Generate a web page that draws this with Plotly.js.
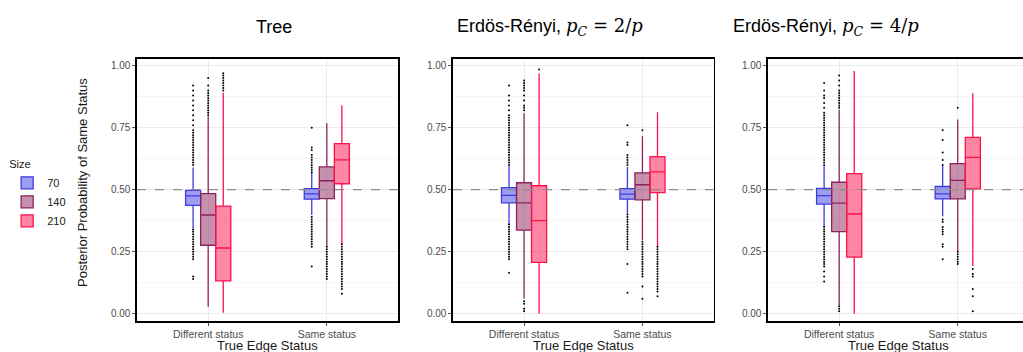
<!DOCTYPE html>
<html>
<head>
<meta charset="utf-8">
<script src="https://cdn.plot.ly/plotly-3.0.1.min.js"></script>
<style>html,body{margin:0;padding:0;background:#fff;}#chart{width:1023px;height:352px;}</style>
</head>
<body>
<div id="chart"></div>
<script>
// ---------- data ----------
const categories = ['Different status', 'Same status'];
const sizes = ['70', '140', '210'];
const panelTitles = [
  'Tree',
  'Erdös-Rényi, <span style="font-family:\'DejaVu Serif\'"><i>p</i><sub><i>C</i></sub> = 2/<i>p</i></span>',
  'Erdös-Rényi, <span style="font-family:\'DejaVu Serif\'"><i>p</i><sub><i>C</i></sub> = 4/<i>p</i></span>'
];
const yTickVals = [0, 0.25, 0.5, 0.75, 1];
const yTickText = ['0.00', '0.25', '0.50', '0.75', '1.00'];
const refLine = 0.5;

// box statistics: [category][size]
const treeQ1 = [[0.437, 0.276, 0.132], [0.462, 0.464, 0.524]];
const treeMed = [[0.475, 0.398, 0.265], [0.483, 0.536, 0.620]];
const treeQ3 = [[0.497, 0.484, 0.434], [0.504, 0.592, 0.686]];
const treeLo = [[0.344, 0.028, 0.004], [0.398, 0.274, 0.281]];
const treeHi = [[0.590, 0.794, 0.891], [0.569, 0.768, 0.840]];

const er2Q1 = [[0.447, 0.337, 0.207], [0.462, 0.459, 0.488]];
const er2Med = [[0.477, 0.447, 0.375], [0.482, 0.520, 0.572]];
const er2Q3 = [[0.508, 0.528, 0.516], [0.504, 0.568, 0.633]];
const er2Lo = [[0.360, 0.061, 0.000], [0.404, 0.297, 0.270]];
const er2Hi = [[0.595, 0.808, 0.969], [0.592, 0.716, 0.812]];

const er4Q1 = [[0.442, 0.331, 0.228], [0.463, 0.463, 0.503]];
const er4Med = [[0.476, 0.446, 0.402], [0.483, 0.538, 0.630]];
const er4Q3 = [[0.505, 0.530, 0.565], [0.513, 0.605, 0.711]];
const er4Lo = [[0.350, 0.034, 0.000], [0.393, 0.252, 0.192]];
const er4Hi = [[0.595, 0.822, 0.979], [0.599, 0.783, 0.889]];

// outliers: [category] for each size
const treeOut70 = [
  [0.60,0.61,0.62,0.63,0.64,0.65,0.66,0.67,0.68,0.69,0.70,0.71,0.72,0.73,0.74,0.76,0.78,0.80,0.82,0.84,0.86,0.88,0.90,0.92,
   0.34,0.33,0.32,0.31,0.30,0.29,0.28,0.27,0.26,0.25,0.24,0.23,0.22,0.15,0.14],
  [0.57,0.58,0.59,0.60,0.61,0.62,0.63,0.64,0.66,0.67,0.75,
   0.39,0.38,0.37,0.36,0.35,0.34,0.33,0.32,0.31,0.30,0.29,0.28,0.27,0.19]
];
const treeOut140 = [
  [0.80,0.81,0.82,0.83,0.84,0.85,0.86,0.87,0.88,0.89,0.90,0.92,0.95],
  [0.27,0.26,0.25,0.24,0.23,0.22,0.21,0.20,0.19,0.18,0.17,0.16,0.15,0.14]
];
const treeOut210 = [
  [0.90,0.91,0.92,0.93,0.94,0.95,0.96,0.97],
  [0.28,0.27,0.26,0.25,0.24,0.23,0.22,0.21,0.20,0.19,0.18,0.17,0.16,0.15,0.14,0.13,0.12,0.11,0.10,0.08]
];
const er2Out70 = [
  [0.60,0.61,0.62,0.63,0.64,0.65,0.66,0.67,0.68,0.69,0.70,0.71,0.72,0.73,0.74,0.75,0.76,0.77,0.78,0.79,0.80,0.82,0.84,0.86,0.88,0.92,
   0.36,0.35,0.34,0.33,0.32,0.31,0.30,0.29,0.28,0.27,0.26,0.25,0.24,0.23,0.22,0.165],
  [0.60,0.61,0.62,0.63,0.64,0.68,0.69,0.76,
   0.40,0.39,0.38,0.37,0.36,0.35,0.34,0.33,0.32,0.31,0.30,0.29,0.28,0.27,0.26,0.20,0.085]
];
const er2Out140 = [
  [0.82,0.83,0.84,0.86,0.88,0.90,0.91,0.92,0.93,0.94,0.05,0.04,0.02,0.01],
  [0.74,0.29,0.28,0.27,0.26,0.25,0.24,0.23,0.22,0.21,0.20,0.19,0.18,0.17,0.16,0.15,0.11,0.06]
];
const er2Out210 = [
  [0.985],
  [0.27,0.26,0.25,0.24,0.23,0.22,0.21,0.20,0.19,0.18,0.17,0.16,0.15,0.14,0.13,0.12,0.11,0.10,0.09,0.07]
];
const er4Out70 = [
  [0.60,0.61,0.62,0.63,0.64,0.65,0.66,0.67,0.68,0.69,0.70,0.71,0.72,0.73,0.74,0.75,0.76,0.77,0.78,0.79,0.80,0.81,0.83,0.85,0.87,0.88,0.90,0.93,
   0.35,0.34,0.33,0.32,0.31,0.30,0.29,0.28,0.27,0.26,0.25,0.24,0.23,0.22,0.21,0.20,0.19,0.17,0.15,0.13],
  [0.60,0.62,0.65,0.70,0.74,0.38,0.37,0.35,0.34,0.33,0.32,0.28,0.27,0.22]
];
const er4Out140 = [
  [0.83,0.84,0.85,0.86,0.87,0.88,0.89,0.90,0.92,0.94,0.96,0.03,0.02,0.01],
  [0.83,0.25,0.24,0.23,0.22,0.21,0.20]
];
const er4Out210 = [
  [],
  [0.18,0.16,0.15,0.10,0.07,0.01]
];

// ---------- styling ----------
const lineColors = ['rgb(60,60,225)', 'rgb(140,35,90)', 'rgb(255,15,75)'];
const fillColors = ['rgba(60,60,225,0.5)', 'rgba(140,35,90,0.5)', 'rgba(255,15,75,0.5)'];
const offsets = [-0.127, 0, 0.127];
const boxWidth = 0.127;

const panels = [
  {q1: treeQ1, med: treeMed, q3: treeQ3, lo: treeLo, hi: treeHi, out: [treeOut70, treeOut140, treeOut210]},
  {q1: er2Q1, med: er2Med, q3: er2Q3, lo: er2Lo, hi: er2Hi, out: [er2Out70, er2Out140, er2Out210]},
  {q1: er4Q1, med: er4Med, q3: er4Q3, lo: er4Lo, hi: er4Hi, out: [er4Out70, er4Out140, er4Out210]}
];

const traces = [];
panels.forEach((p, pi) => {
  const xa = pi === 0 ? 'x' : 'x' + (pi + 1);
  const ya = pi === 0 ? 'y' : 'y' + (pi + 1);
  sizes.forEach((s, si) => {
    const xs = categories.map((c, ci) => ci + offsets[si]);
    traces.push({
      type: 'box', name: s, legendgroup: s, showlegend: pi === 0,
      xaxis: xa, yaxis: ya,
      x: xs,
      q1: categories.map((c, ci) => p.q1[ci][si]),
      median: categories.map((c, ci) => p.med[ci][si]),
      q3: categories.map((c, ci) => p.q3[ci][si]),
      lowerfence: categories.map((c, ci) => p.lo[ci][si]),
      upperfence: categories.map((c, ci) => p.hi[ci][si]),
      width: boxWidth, whiskerwidth: 0, boxpoints: false,
      line: {color: lineColors[si], width: 1.3},
      fillcolor: fillColors[si],
      hoverinfo: 'skip'
    });
  });
  sizes.forEach((s, si) => {
    const ox = [], oy = [];
    categories.forEach((c, ci) => {
      p.out[si][ci].forEach(v => { ox.push(ci + offsets[si]); oy.push(v); });
    });
    traces.push({
      type: 'scatter', mode: 'markers', x: ox, y: oy, xaxis: xa, yaxis: ya,
      marker: {color: 'black', size: 2}, showlegend: false, hoverinfo: 'skip', legendgroup: s
    });
  });
});

const W = 1023, H = 352;
const yDom = [(H - 321) / H, (H - 58.5) / H];
const xDoms = [[137 / W, 398 / W], [453 / W, 713.5 / W], [768 / W, 1]];
const xRanges = [[-0.6, 1.6], [-0.6, 1.6], [-0.6, 1.55]];

const fam = 'Liberation Sans, Arial, sans-serif';
const xTickFont = {family: fam, size: 10.5, color: '#4d4d4d'};
const yTickFont = {family: fam, size: 10, color: '#4d4d4d'};
const layout = {
  width: W, height: H,
  margin: {l: 0, r: 0, t: 0, b: 0},
  paper_bgcolor: 'white', plot_bgcolor: 'white',
  font: {family: fam, color: '#1a1a1a'},
  showlegend: true,
  legend: {
    x: 0.007, y: 1 - 154 / H, xanchor: 'left', yanchor: 'top',
    title: {text: 'Size', font: {size: 11, color: '#1a1a1a'}},
    font: {size: 11, color: '#1a1a1a'}, tracegroupgap: 0, bgcolor: 'rgba(0,0,0,0)'
  },
  shapes: [], annotations: []
};

panels.forEach((p, pi) => {
  const sx = pi === 0 ? '' : String(pi + 1);
  layout['xaxis' + sx] = {
    domain: xDoms[pi], range: xRanges[pi], anchor: 'y' + sx,
    tickvals: categories.map((c, ci) => ci), ticktext: categories,
    showgrid: true, gridcolor: '#ebebeb', gridwidth: 1,
    ticks: 'outside', ticklen: 3, tickcolor: '#555', tickwidth: 1,
    tickfont: xTickFont, zeroline: false,
    showline: true, linecolor: 'black', linewidth: 1.6, mirror: true, fixedrange: true
  };
  layout['yaxis' + sx] = {
    domain: yDom, range: [-0.0294, 1.029], anchor: 'x' + sx,
    tickvals: yTickVals, ticktext: yTickText,
    showgrid: true, gridcolor: '#ebebeb', gridwidth: 1,
    minor: {dtick: 0.125, tick0: 0, showgrid: true, gridcolor: '#f6f6f6', gridwidth: 1},
    ticks: 'outside', ticklen: 3, tickcolor: '#555', tickwidth: 1,
    tickfont: yTickFont, zeroline: false,
    showline: true, linecolor: 'black', linewidth: 1.6, mirror: pi < 2, fixedrange: true
  };
  layout.shapes.push({
    type: 'line', xref: 'x' + sx + ' domain', yref: 'y' + sx, x0: 0, x1: 1, y0: refLine, y1: refLine,
    line: {color: '#8c8c8c', width: 1.2, dash: 'dash'}, layer: 'above'
  });
});

const titleCenters = [274, 550, 825.5];
panelTitles.forEach((t, i) => {
  layout.annotations.push({
    text: t, xref: 'paper', yref: 'paper', x: titleCenters[i] / W, y: 1 - 27 / H,
    xanchor: 'center', yanchor: 'middle', showarrow: false,
    font: {size: 18, color: '#000', family: fam}
  });
});
const xTitleCenters = [267.5, 583, 898];
xTitleCenters.forEach(cx => {
  layout.annotations.push({
    text: 'True Edge Status', xref: 'paper', yref: 'paper', x: cx / W, y: 1 - 345 / H,
    xanchor: 'center', yanchor: 'middle', showarrow: false,
    font: {size: 13, color: '#1a1a1a'}
  });
});
layout.annotations.push({
  text: 'Posterior Probability of Same Status', xref: 'paper', yref: 'paper',
  x: 82 / W, y: 1 - 183 / H, xanchor: 'center', yanchor: 'middle', textangle: -90,
  showarrow: false, font: {size: 13, color: '#1a1a1a'}
});

Plotly.newPlot('chart', traces, layout, {displayModeBar: false, staticPlot: true});
</script>
</body>
</html>
